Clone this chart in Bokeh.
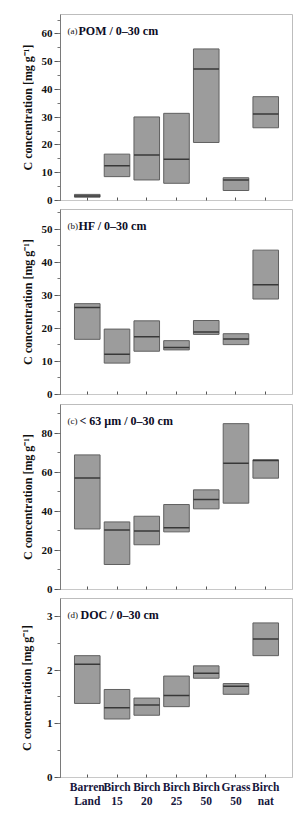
from bokeh.plotting import figure
from bokeh.layouts import column
from bokeh.models import SingleIntervalTicker, FixedTicker, Label, Range1d
from bokeh.embed import file_html
from bokeh.resources import INLINE

categories = ["Barren\nLand", "Birch\n15", "Birch\n20", "Birch\n25", "Birch\n50", "Grass\n50", "Birch\nnat"]

# (a) POM
pom_low = [1.2, 8.6, 7.4, 6.2, 20.9, 3.6, 26.2]
pom_med = [1.6, 12.5, 16.4, 14.9, 47.4, 7.4, 31.2]
pom_high = [2.2, 16.7, 30.1, 31.4, 54.6, 8.2, 37.4]
# (b) HF
hf_low = [16.7, 9.5, 13.1, 13.5, 18.2, 15.1, 28.9]
hf_med = [26.3, 12.2, 17.5, 14.2, 18.9, 16.8, 33.2]
hf_high = [27.5, 19.8, 22.3, 16.3, 22.4, 18.4, 43.7]
# (c) <63 um
silt_low = [31.0, 12.8, 22.9, 29.5, 41.3, 44.2, 57.0]
silt_med = [57.1, 30.4, 30.0, 31.6, 46.1, 64.6, 66.0]
silt_high = [68.9, 34.6, 37.5, 43.5, 51.0, 84.9, 66.4]
# (d) DOC
doc_low = [1.38, 1.09, 1.16, 1.32, 1.85, 1.55, 2.27]
doc_med = [2.11, 1.30, 1.35, 1.53, 1.94, 1.70, 2.58]
doc_high = [2.27, 1.64, 1.48, 1.89, 2.08, 1.75, 2.88]

# tag, title, low, median, high, ymax, tick step, frame height, top border, bottom border, title offset, label standoff
panels = [
    ("(a)", "POM / 0\u201330 cm", pom_low, pom_med, pom_high, 67.0, 10, 186, 14, 6, 18, 4),
    ("(b)", "HF / 0\u201330 cm", hf_low, hf_med, hf_high, 56.0, 10, 185, 3, 6, 18, 4),
    ("(c)", "< 63 \u00b5m / 0\u201330 cm", silt_low, silt_med, silt_high, 94.7, 20, 185, 4, 6, 19, 4),
    ("(d)", "DOC / 0\u201330 cm", doc_low, doc_med, doc_high, 3.335, 1, 179, 3, 0, 20, 10),
]

FONT = "Liberation Serif"
BOX_W = 0.86
xs = list(range(1, len(categories) + 1))

figs = []
for i, (tag, title, lo, med, hi, ymax, step, fh, top_b, bot_b, toff, lstand) in enumerate(panels):
    last = i == len(panels) - 1
    p = figure(frame_width=232, frame_height=fh, output_backend="svg",
               toolbar_location=None, x_range=Range1d(0.1, 7.9),
               y_range=Range1d(0, ymax),
               min_border_left=60, min_border_right=5,
               min_border_top=top_b, min_border_bottom=bot_b)
    p.background_fill_color = "white"
    p.border_fill_color = "white"
    p.outline_line_color = "#bdbdbd"
    p.outline_line_width = 1
    p.xgrid.visible = False
    p.ygrid.visible = False

    p.vbar(x=xs, width=BOX_W, bottom=lo, top=hi, fill_color="#9c9c9c",
           line_color="#606060", line_width=1)
    x0 = [x - BOX_W / 2 for x in xs]
    x1 = [x + BOX_W / 2 for x in xs]
    p.segment(x0=x0, y0=med, x1=x1, y1=med, line_color="#383838", line_width=1.5)

    # y axis
    ya = p.yaxis[0]
    ya.ticker = SingleIntervalTicker(interval=step, num_minor_ticks=2)
    ya.axis_line_color = "#7a7a7a"
    ya.major_tick_line_color = "#555555"
    ya.minor_tick_line_color = "#777777"
    ya.major_tick_out = 6
    ya.major_tick_in = 0
    ya.minor_tick_out = 3
    ya.minor_tick_in = 0
    ya.major_label_standoff = 2
    ya.major_label_text_font = FONT
    ya.major_label_text_font_style = "bold"
    ya.major_label_text_font_size = "11px"
    ya.major_label_text_color = "#111111"
    ya.axis_label = "C concentration [mg g\u207b\u00b9]"
    ya.axis_label_text_font = FONT
    ya.axis_label_text_font_style = "bold"
    ya.axis_label_text_font_size = "12px"
    ya.axis_label_text_color = "#111111"
    ya.axis_label_standoff = lstand

    # x axis
    xa = p.xaxis[0]
    xa.ticker = FixedTicker(ticks=xs)
    xa.axis_line_color = "#c8c8c8"
    xa.major_tick_line_color = "#555555"
    xa.major_tick_in = 3
    xa.major_tick_out = 0
    xa.minor_tick_line_color = None
    if last:
        xa.major_label_overrides = {x: c for x, c in zip(xs, categories)}
        xa.major_label_text_font = FONT
        xa.major_label_text_font_style = "bold"
        xa.major_label_text_font_size = "11.5px"
        xa.major_label_text_color = "#16163c"
        xa.major_label_standoff = 3
    else:
        xa.major_label_text_font_size = "0px"
        xa.major_label_standoff = 0
        xa.major_label_text_color = None

    p.add_layout(Label(x=0.1, y=ymax, x_offset=7, y_offset=-16, text=tag,
                       text_font=FONT, text_font_size="9px",
                       text_color="#111111", text_baseline="alphabetic"))
    p.add_layout(Label(x=0.1, y=ymax, x_offset=toff, y_offset=-16, text=title,
                       text_font=FONT, text_font_style="bold", text_font_size="12px",
                       text_color="#0d0d26", text_baseline="alphabetic"))
    figs.append(p)

layout = column(*figs, spacing=0)
open("out.html", "w").write(file_html(layout, INLINE))
